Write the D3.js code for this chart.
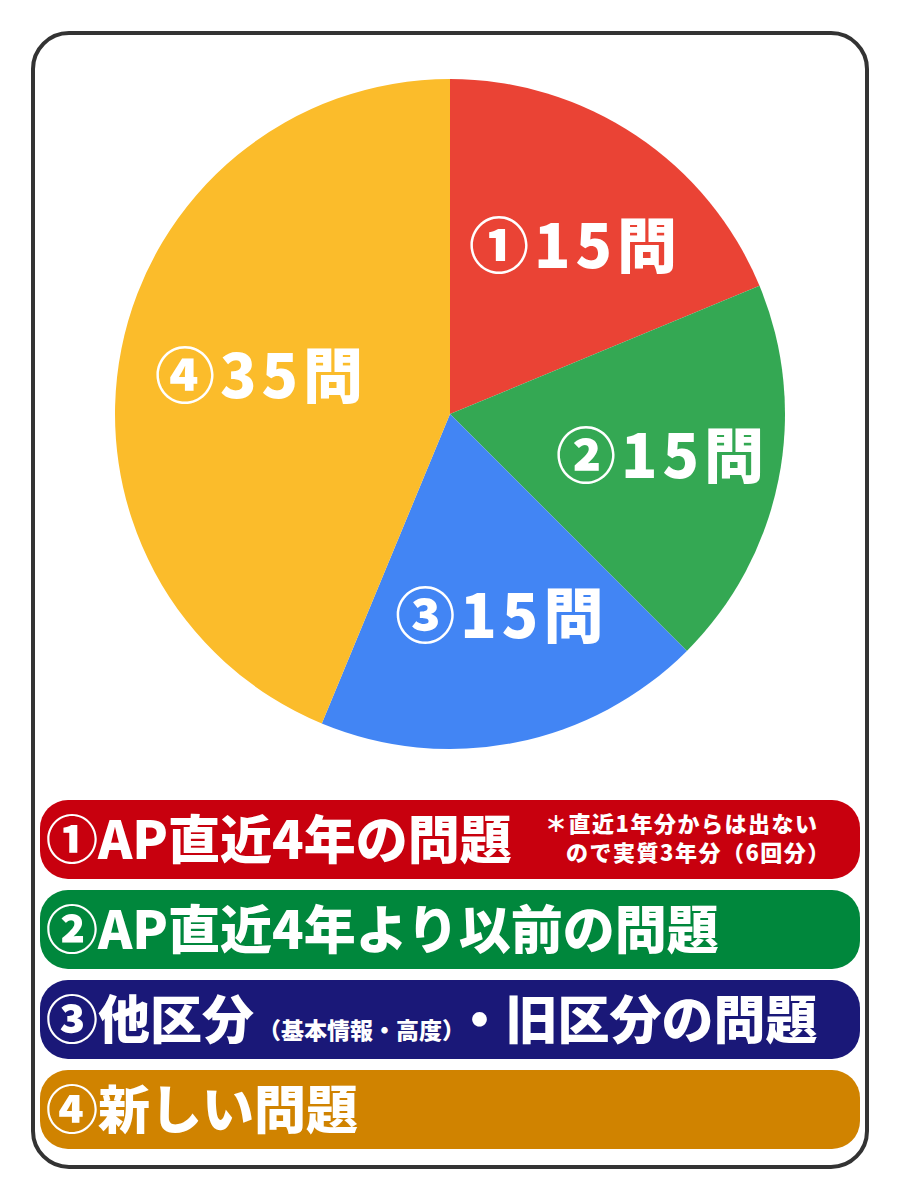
<!DOCTYPE html>
<html>
<head>
<meta charset="utf-8">
<script src="https://cdn.jsdelivr.net/npm/d3@7"></script>
<style>
  html, body { margin: 0; padding: 0; background: #fff; }
  svg text { font-family: "Noto Sans CJK JP", "Noto Sans", sans-serif; font-weight: 900; }
</style>
</head>
<body>
<div id="chart"></div>
<script>
// data
const marks = ["①", "②", "③", "④"]
const counts = [15, 15, 15, 35]
const unit = "問"
const legendParts = [
    [{t: "①AP直近4年の問題", big: true}],
    [{t: "②AP直近4年より以前の問題", big: true}],
    [{t: "③他区分", big: true}, {t: "（基本情報・高度）", big: false}, {t: "・旧区分の問題", big: true}],
    [{t: "④新しい問題", big: true}]
]
const noteLines = ["＊直近1年分からは出ない", "ので実質3年分（6回分）"]

const colors = {
    slice: ["#EA4335", "#34A853", "#4285F4", "#FBBC2B"],
    band: ["#C8000E", "#00873C", "#1A1878", "#D08300"],
    frame: "#333"
}

const width = 900, height = 1200
const cx = 450, cy = 414, radius = 335

const svg = d3.select("#chart")
    .append("svg")
    .attr("width", width)
    .attr("height", height)

// outer frame
svg.append("rect")
    .attr("x", 33).attr("y", 33)
    .attr("width", 834).attr("height", 1134)
    .attr("rx", 36).attr("ry", 36)
    .attr("fill", "#fff")
    .attr("stroke", colors.frame)
    .attr("stroke-width", 4)

// pie
const pie = d3.pie().sort(null).value(d => d)
const arcs = pie(counts)
const arc = d3.arc().innerRadius(0).outerRadius(radius)
const labelArc = d3.arc().innerRadius(radius * 0.61).outerRadius(radius * 0.61)

const pg = svg.append("g").attr("transform", `translate(${cx},${cy})`)

pg.selectAll("path.slice")
    .data(arcs)
    .join("path")
    .attr("class", "slice")
    .attr("d", arc)
    .attr("fill", (d, i) => colors.slice[i])

pg.selectAll("text.lbl")
    .data(arcs)
    .join("text")
    .attr("class", "lbl")
    .attr("transform", d => `translate(${labelArc.centroid(d)})`)
    .attr("text-anchor", "middle")
    .attr("dx", 12)
    .attr("dy", "0.4em")
    .attr("font-size", 60)
    .attr("letter-spacing", 5)
    .attr("fill", "#fff")
    .text((d, i) => marks[i] + d.data + unit)

// legend bands
const y = d3.scaleBand()
    .domain(d3.range(legendParts.length))
    .range([800, 1149])
    .paddingInner(11 / 90)

const rows = svg.selectAll("g.row")
    .data(legendParts)
    .join("g")
    .attr("class", "row")
    .attr("transform", (d, i) => `translate(40,${y(i)})`)

rows.append("rect")
    .attr("width", 820)
    .attr("height", y.bandwidth())
    .attr("rx", 28).attr("ry", 28)
    .attr("fill", (d, i) => colors.band[i])

rows.append("text")
    .attr("x", 6)
    .attr("y", y.bandwidth() / 2 + 19)
    .attr("fill", "#fff")
    .selectAll("tspan")
    .data(d => d)
    .join("tspan")
    .attr("font-size", d => d.big ? 52 : 23)
    .attr("dx", d => d.big ? 0 : 4)
    .text(d => d.t)

// note inside the first band
const note = svg.append("g").attr("transform", `translate(0,${y(0)})`)
note.selectAll("text")
    .data(noteLines)
    .join("text")
    .attr("x", (d, i) => i === 0 ? 545 : 566)
    .attr("y", (d, i) => 32 + i * 29)
    .attr("font-size", 22)
    .attr("letter-spacing", 1.5)
    .attr("fill", "#fff")
    .text(d => d)
</script>
</body>
</html>
